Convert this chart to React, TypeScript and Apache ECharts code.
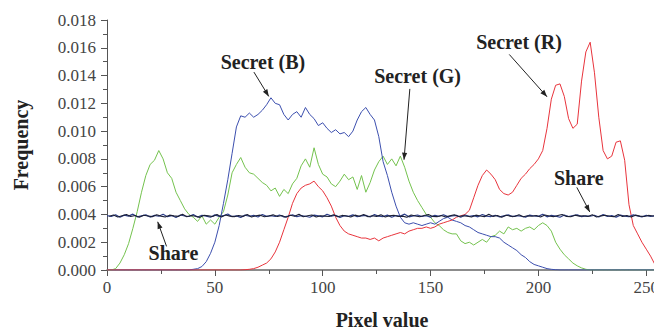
import React, { useEffect, useRef } from "react";
import * as echarts from "echarts";

// pixel values step 2 (0,2,...,254); frequencies in units of 0.001
const STEP = 2;
const secretG = [
  0, 0, 0.1, 0.5, 1.1, 1.9, 3.0, 4.2, 5.6, 6.8,
  7.6, 7.9, 8.6, 8.0, 7.0, 6.6, 5.6, 5.0, 4.4, 4.0,
  3.8, 3.5, 3.9, 3.3, 3.6, 3.3, 3.8, 4.2, 5.4, 7.0,
  7.6, 8.1, 7.4, 7.0, 6.9, 6.6, 6.3, 6.1, 5.7, 5.9,
  5.3, 5.8, 5.5, 6.2, 6.6, 7.5, 8.0, 7.4, 8.8, 7.6,
  6.9, 6.7, 6.2, 6.0, 6.4, 6.9, 6.5, 6.7, 5.8, 6.8,
  5.6, 6.3, 7.2, 7.8, 8.2, 7.6, 8.0, 7.5, 8.2, 7.4,
  6.4, 5.6, 5.0, 4.5, 4.0, 3.8, 3.4, 3.2, 2.9, 2.7,
  2.6, 2.6, 2.1, 1.9, 2.0, 1.8, 2.0, 2.2, 2.0, 2.4,
  2.5, 2.8, 2.6, 3.1, 2.9, 3.0, 2.8, 3.0, 3.1, 2.9,
  3.2, 3.4, 3.2, 2.8, 2.0, 1.5, 1.1, 0.8, 0.5, 0.3,
  0.15, 0.05, 0, 0, 0, 0, 0, 0, 0, 0,
  0, 0, 0, 0, 0, 0, 0, 0,
];
const secretB = [
  0, 0, 0, 0, 0, 0, 0, 0, 0, 0,
  0, 0, 0, 0, 0, 0, 0, 0, 0, 0,
  0.05, 0.1, 0.25, 0.6, 1.2, 2.0, 3.2, 4.8, 6.5, 8.4,
  10.3, 11.1, 11.0, 11.3, 11.0, 11.2, 11.5, 11.9, 12.4, 12.0,
  11.9, 11.2, 10.8, 11.2, 11.4, 11.0, 11.7, 11.2, 10.9, 10.4,
  10.6, 10.2, 9.9, 10.1, 9.8, 9.9, 9.6, 10.0, 10.8, 11.4,
  11.7, 11.2, 10.8, 9.6, 7.8, 6.8, 5.6, 4.6, 3.8, 3.4,
  3.3, 3.4, 3.3, 3.2, 3.3, 3.4, 3.3, 3.5, 3.7, 3.8,
  3.6, 3.5, 3.4, 3.2, 3.1, 2.9, 2.7, 2.6, 2.5, 2.4,
  2.4, 2.3, 2.0, 1.8, 1.6, 1.4, 1.1, 0.9, 0.6, 0.4,
  0.3, 0.2, 0.1, 0.05, 0.02, 0, 0, 0, 0, 0,
  0, 0, 0, 0, 0, 0, 0, 0, 0, 0,
  0, 0, 0, 0, 0, 0, 0, 0,
];
const secretR = [
  0, 0, 0, 0, 0, 0, 0, 0, 0, 0,
  0, 0, 0, 0, 0, 0, 0, 0, 0, 0,
  0, 0, 0, 0, 0, 0, 0, 0, 0, 0,
  0, 0, 0.02, 0.05, 0.1, 0.2, 0.35, 0.5, 0.8, 1.3,
  2.0, 2.9, 3.8, 4.8, 5.5, 5.9, 6.1, 6.2, 6.4, 6.0,
  5.7, 5.2, 4.6, 3.8, 3.2, 2.8, 2.6, 2.5, 2.4, 2.3,
  2.3, 2.2, 2.3, 2.1, 2.3, 2.4, 2.5, 2.6, 2.7, 2.6,
  2.8, 2.9, 3.0, 3.0, 3.1, 3.0, 3.1, 3.3, 3.4, 3.5,
  3.6, 3.8, 3.9, 4.0, 4.3, 5.2, 6.1, 6.8, 7.2, 6.9,
  6.5, 5.8, 5.5, 5.4, 5.6, 6.1, 6.6, 6.9, 7.3, 7.6,
  8.0, 8.6, 10.2, 12.3, 13.3, 13.4, 12.5, 10.9, 10.2, 10.5,
  13.6, 15.7, 16.4, 14.2, 11.0, 8.6, 8.0, 8.2, 9.2, 9.3,
  7.9, 4.7, 3.2, 2.6, 2.0, 1.5, 1.0, 0.4,
];
const shareA = [
  3.92, 3.85, 3.98, 3.80, 3.95, 3.88, 4.02, 3.83, 3.90, 3.97,
  3.81, 3.93, 3.87, 4.01, 3.84, 3.92, 3.78, 3.96, 3.89, 3.85,
  3.99, 3.82, 3.94, 3.88, 3.80, 3.97, 3.86, 3.91, 4.03, 3.84,
  3.90, 3.79, 3.95, 3.87, 3.93, 3.82, 4.00, 3.86, 3.91, 3.85,
  3.96, 3.81, 3.89, 3.98, 3.84, 3.92, 3.87, 3.80, 3.95, 3.90,
  3.83, 4.01, 3.88, 3.94, 3.79, 3.91, 3.86, 3.97, 3.84, 3.90,
  3.93, 3.82, 3.99, 3.87, 3.85, 3.95, 3.80, 3.92, 3.88, 4.02,
  3.83, 3.90, 3.96, 3.85, 3.91, 3.81, 3.94, 3.87, 3.98, 3.84,
  3.89, 3.93, 3.80, 3.96, 3.86, 3.91, 3.83, 4.00, 3.88, 3.85,
  3.94, 3.82, 3.90, 3.97, 3.84, 3.92, 3.87, 3.81, 3.95, 3.89,
  3.86, 4.01, 3.83, 3.93, 3.88, 3.80, 3.96, 3.85, 3.91, 3.98,
  3.84, 3.90, 3.87, 3.94, 3.82, 3.99, 3.86, 3.92, 3.81, 3.95,
  3.88, 3.84, 3.97, 3.90, 3.83, 3.93, 3.86, 3.91,
];
const shareB = [
  3.87, 3.96, 3.82, 3.91, 3.99, 3.85, 3.93, 3.80, 3.94, 3.89,
  3.84, 3.98, 3.88, 3.81, 3.95, 3.90, 3.86, 4.02, 3.83, 3.92,
  3.87, 3.79, 3.94, 3.90, 3.85, 3.99, 3.82, 3.96, 3.88, 3.84,
  3.93, 3.86, 4.00, 3.81, 3.91, 3.95, 3.83, 3.89, 3.97, 3.85,
  3.92, 3.80, 3.94, 3.87, 4.01, 3.84, 3.90, 3.96, 3.82, 3.91,
  3.88, 3.85, 3.98, 3.83, 3.93, 3.89, 3.81, 3.95, 3.87, 4.00,
  3.84, 3.91, 3.86, 3.97, 3.82, 3.90, 3.94, 3.85, 3.88, 3.80,
  3.96, 3.89, 3.83, 3.92, 3.99, 3.86, 3.84, 3.93, 3.81, 3.90,
  3.97, 3.85, 3.91, 3.87, 3.82, 3.95, 3.89, 3.84, 4.01, 3.86,
  3.92, 3.80, 3.94, 3.88, 3.85, 3.98, 3.83, 3.90, 3.87, 3.93,
  3.81, 3.96, 3.89, 3.84, 3.92, 4.00, 3.86, 3.83, 3.95, 3.88,
  3.91, 3.85, 3.97, 3.82, 3.90, 3.94, 3.87, 3.84, 3.99, 3.86,
  3.92, 3.81, 3.95, 3.88, 3.85, 3.93, 3.89, 3.90,
];

const xTicks = [0, 50, 100, 150, 200, 250];

// annotations: text anchor and arrow (data coordinates, y in units of 0.001)
const annotations = [
  { text: "Secret (B)", at: [72.3, 14.95], from: [68.1, 14.25], to: [75.0, 12.5] },
  { text: "Secret (G)", at: [144.0, 13.96], from: [140.4, 13.04], to: [137.7, 7.94] },
  { text: "Secret (R)", at: [191.0, 16.44], from: [186.5, 15.52], to: [204.0, 12.47] },
  { text: "Share", at: [218.7, 6.66], from: [217.8, 5.95], to: [223.8, 4.18] },
  { text: "Share", at: [30.8, 1.2], from: [27.6, 1.7], to: [23.5, 3.47] },
];

const toPairs = (arr: number[], offset = 0) =>
  arr.map((v, i) => [i * STEP + offset, v / 1000]);

const SERIF = "'Liberation Serif', 'Times New Roman', serif";

export default function App() {
  const ref = useRef<HTMLDivElement>(null);
  useEffect(() => {
    if (!ref.current) return;
    const chart = echarts.init(ref.current, null, { renderer: "svg" });
    const line = (name: string, data: number[][], color: string, width = 1, z = 2) => ({
      name,
      type: "line",
      data,
      showSymbol: false,
      symbol: "none",
      z,
      lineStyle: { color, width },
      emphasis: { disabled: true },
    });
    chart.setOption({
      animation: false,
      grid: { left: 107, right: 1, top: 20, bottom: 61 },
      xAxis: {
        type: "value",
        min: 0,
        max: 255,
        interval: 50,
        name: "Pixel value",
        nameLocation: "middle",
        nameGap: 40,
        nameTextStyle: { fontFamily: SERIF, fontWeight: "bold", fontSize: 20, color: "#222" },
        axisLine: { show: true, lineStyle: { color: "#666", width: 1.5 } },
        axisTick: { show: true, inside: false, length: 6, lineStyle: { color: "#555" } },
        minorTick: { show: true, splitNumber: 2, length: 4, lineStyle: { color: "#555" } },
        splitLine: { show: false },
        axisLabel: {
          fontFamily: SERIF,
          fontSize: 17,
          color: "#444",
          margin: 9,
          showMaxLabel: false,
          formatter: (v: number) => (xTicks.includes(v) ? String(v) : ""),
        },
      },
      yAxis: {
        type: "value",
        min: 0,
        max: 0.018,
        interval: 0.002,
        name: "Frequency",
        nameLocation: "middle",
        nameGap: 76,
        nameTextStyle: { fontFamily: SERIF, fontWeight: "bold", fontSize: 20, color: "#222" },
        axisLine: { show: true, lineStyle: { color: "#555" } },
        axisTick: { show: true, inside: false, length: 6, lineStyle: { color: "#555" } },
        minorTick: { show: true, splitNumber: 2, length: 4, lineStyle: { color: "#555" } },
        splitLine: { show: false },
        axisLabel: {
          fontFamily: SERIF,
          fontSize: 17,
          color: "#444",
          margin: 11,
          formatter: (v: number) => v.toFixed(3),
        },
      },
      series: [
        line("Secret (G)", toPairs(secretG), "#74c24e"),
        line("Secret (B)", toPairs(secretB), "#3c4fae"),
        line("Secret (R)", toPairs(secretR), "#e8343c"),
        line("Share 1", toPairs(shareA), "#2e3f8a", 1.2, 3),
        line("Share 2", toPairs(shareB, 1), "#1c2036", 1.1, 4),
      ],
    });

    const graphics: any[] = [];
    annotations.forEach((a) => {
      const t = chart.convertToPixel({ gridIndex: 0 }, [a.at[0], a.at[1] / 1000]) as number[];
      const p1 = chart.convertToPixel({ gridIndex: 0 }, [a.from[0], a.from[1] / 1000]) as number[];
      const p2 = chart.convertToPixel({ gridIndex: 0 }, [a.to[0], a.to[1] / 1000]) as number[];
      graphics.push({
        type: "text",
        x: t[0],
        y: t[1],
        z: 10,
        style: {
          text: a.text,
          fontFamily: SERIF,
          fontWeight: "bold",
          fontSize: 20,
          fill: "#222",
          align: "center",
          verticalAlign: "middle",
        },
      });
      graphics.push({
        type: "line",
        z: 10,
        shape: { x1: p1[0], y1: p1[1], x2: p2[0], y2: p2[1] },
        style: { stroke: "#222", lineWidth: 1 },
      });
      const dx = p2[0] - p1[0];
      const dy = p2[1] - p1[1];
      const len = Math.hypot(dx, dy);
      const ux = dx / len;
      const uy = dy / len;
      const hl = 7;
      const hw = 2.6;
      const bx = p2[0] - ux * hl;
      const by = p2[1] - uy * hl;
      graphics.push({
        type: "polygon",
        z: 10,
        shape: {
          points: [
            [p2[0], p2[1]],
            [bx - uy * hw, by + ux * hw],
            [bx + uy * hw, by - ux * hw],
          ],
        },
        style: { fill: "#222" },
      });
    });
    chart.setOption({ graphic: graphics });

    return () => chart.dispose();
  }, []);
  return <div ref={ref} style={{ width: 662, height: 335, margin: -8 }} />;
}
